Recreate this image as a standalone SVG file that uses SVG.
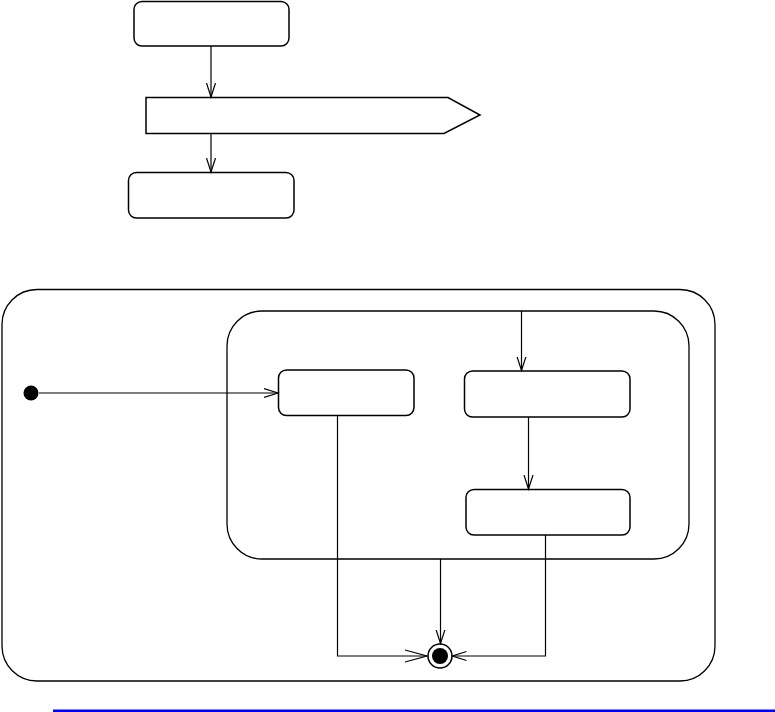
<svg xmlns="http://www.w3.org/2000/svg" width="775" height="712" viewBox="0 0 775 712">
<style>
.box{fill:#fff;stroke:#000;stroke-width:1.5}
.frame{fill:none;stroke:#000;stroke-width:1.3}
.edge{fill:none;stroke:#000;stroke-width:1.2}
.head{fill:none;stroke:#000;stroke-width:1.2}
</style>
<defs>
<marker id="arr" viewBox="-14 -6 16 12" refX="0" refY="0" markerWidth="16" markerHeight="12" markerUnits="userSpaceOnUse" orient="auto">
<path d="M-14,-4.5 L0,0 L-14,4.5" fill="none" stroke="#000" stroke-width="1.2"/>
</marker>
</defs>
<rect width="775" height="712" fill="#fff"/>
<g id="state-1"><rect class="box" x="134" y="1.5" width="155" height="44.5" rx="8"/></g>
<g id="signal"><polygon class="box" points="146,97.5 448,97.5 480,115 444,133.5 146,133.5" stroke-width="1.3"/></g>
<g id="state-2"><rect class="box" x="128.5" y="172.5" width="165.5" height="45.5" rx="8"/></g>
<g id="composite-outer"><rect class="frame" x="2" y="289.5" width="713" height="391.5" rx="35"/></g>
<g id="composite-inner"><rect class="frame" x="227" y="311" width="462" height="248" rx="35"/></g>
<g id="initial"><circle cx="31" cy="393" r="7.5" fill="#000"/></g>
<g id="state-a"><rect class="box" x="278.5" y="370" width="135.5" height="45.5" rx="8"/></g>
<g id="state-b"><rect class="box" x="464.5" y="371" width="165.5" height="46" rx="8"/></g>
<g id="state-c"><rect class="box" x="466" y="489.5" width="164" height="45.5" rx="8"/></g>
<g id="final"><circle cx="440" cy="656" r="12" fill="#fff" stroke="#000" stroke-width="1.5"/><circle cx="440" cy="656" r="8" fill="#000"/></g>
<g id="connectors">
<line class="edge" x1="211" y1="46" x2="211" y2="97" marker-end="url(#arr)"/>
<line class="edge" x1="211" y1="133.5" x2="211" y2="172" marker-end="url(#arr)"/>
<line class="edge" x1="39" y1="393" x2="278" y2="393" marker-end="url(#arr)"/>
<line class="edge" x1="521.5" y1="311" x2="521.5" y2="370.5" marker-end="url(#arr)"/>
<line class="edge" x1="528.5" y1="417" x2="528.5" y2="489" marker-end="url(#arr)"/>
<polyline class="edge" points="337.5,415.5 337.5,656 427,656"/>
<path class="head" d="M405,650 L427,656 L405,662"/>
<line class="edge" x1="440.5" y1="559" x2="440.5" y2="643.5" marker-end="url(#arr)"/>
<polyline class="edge" points="545.5,535 545.5,656 452.5,656" marker-end="url(#arr)"/>
</g>
<rect x="53" y="709.5" width="722" height="2.5" fill="#0000ff"/>
</svg>
